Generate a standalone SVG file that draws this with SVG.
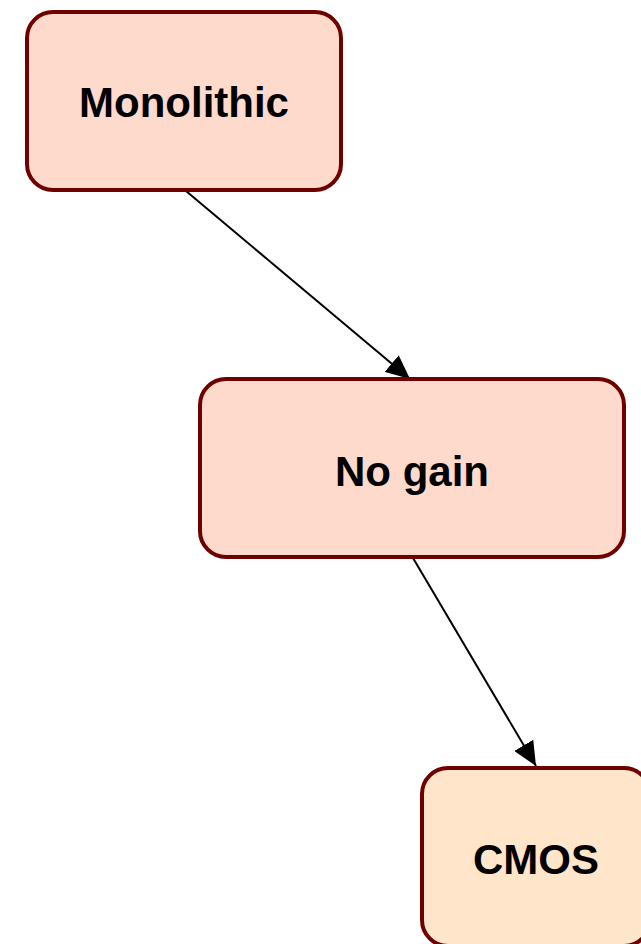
<svg xmlns="http://www.w3.org/2000/svg" width="641" height="944" viewBox="0 0 641 944">
<style>
.box{stroke:#6f0000;stroke-width:4}
.pink{fill:#fddacb}
.peach{fill:#ffe6cb}
.lbl{font-family:"Liberation Sans",Arial,sans-serif;font-weight:bold;font-size:42px;fill:#000;text-anchor:middle}
.edge{stroke:#000;stroke-width:2;fill:none}
</style>
<defs>
<marker id="arr" markerUnits="userSpaceOnUse" markerWidth="24" markerHeight="22" viewBox="0 0 24 22" refX="24" refY="11" orient="auto">
<path d="M0,0 L24,11 L0,22 Z" fill="#000"/>
</marker>
</defs>
<rect width="641" height="944" fill="#fff"/>
<g id="connectors">
<path class="edge" d="M186,191 L410,379" marker-end="url(#arr)"/>
<path class="edge" d="M413,558 L536,766" marker-end="url(#arr)"/>
</g>
<g id="monolithic">
<rect class="box pink" x="27" y="12" width="314" height="178" rx="26"/>
<text class="lbl" x="184" y="117">Monolithic</text>
</g>
<g id="nogain">
<rect class="box pink" x="200" y="379" width="424" height="178" rx="26"/>
<text class="lbl" x="412" y="486">No gain</text>
</g>
<g id="cmos">
<rect class="box peach" x="422" y="768" width="228" height="178" rx="26"/>
<text class="lbl" x="536" y="874">CMOS</text>
</g>
</svg>
